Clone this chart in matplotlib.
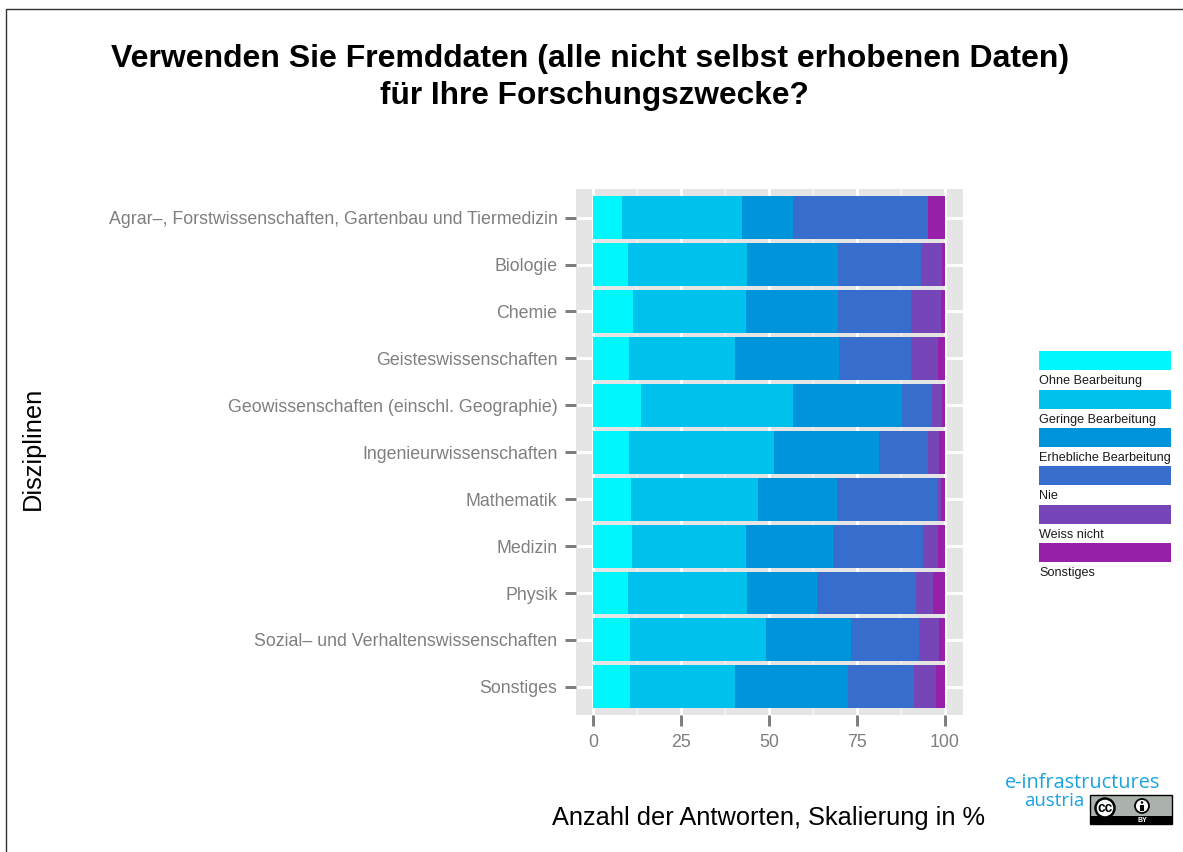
import numpy as np
import matplotlib
matplotlib.use('Agg')
import matplotlib.pyplot as plt
from matplotlib.patches import Rectangle, Circle

plt.rcParams['font.family'] = ['Liberation Sans', 'DejaVu Sans']

disziplinen = ['Agrar\u2013, Forstwissenschaften, Gartenbau und Tiermedizin', 'Biologie', 'Chemie',
               'Geisteswissenschaften', 'Geowissenschaften (einschl. Geographie)',
               'Ingenieurwissenschaften', 'Mathematik', 'Medizin', 'Physik',
               'Sozial\u2013 und Verhaltenswissenschaften', 'Sonstiges']
antworten = ['Ohne Bearbeitung', 'Geringe Bearbeitung', 'Erhebliche Bearbeitung',
             'Nie', 'Weiss nicht', 'Sonstiges']
farben = ['#00F7FF', '#00C2EC', '#0095DA', '#376ECD', '#7646B8', '#9720A8']

ohne = [8.2, 9.9, 11.4, 10.2, 13.6, 10.2, 10.8, 11.1, 9.9, 10.5, 10.5]
geringe = [34.1, 33.8, 32.1, 30.1, 43.2, 41.2, 36.1, 32.4, 33.8, 38.6, 29.8]
erhebliche = [14.5, 25.9, 26.1, 29.6, 31.0, 29.8, 22.4, 24.7, 19.9, 24.2, 32.1]
nie = [38.4, 23.6, 20.7, 20.4, 8.5, 13.9, 28.7, 25.6, 28.2, 19.3, 18.8]
weiss = [0.0, 5.9, 8.6, 7.7, 2.8, 3.1, 0.9, 4.3, 4.8, 5.7, 6.2]
sonstiges = [4.8, 0.9, 1.1, 2.0, 0.9, 1.7, 1.1, 2.0, 3.4, 1.7, 2.6]
x_ticks = [0, 25, 50, 75, 100]

W, H = 1183, 852
GRAU = '#7F7F7F'
PX = 0.72  # 1 px in points at dpi 100

fig = plt.figure(figsize=(W / 100, H / 100), dpi=100)

ax = fig.add_axes([576 / W, 1 - 715 / H, 387 / W, 526 / H])
ax.set_facecolor('#E5E5E5')
y = np.arange(len(disziplinen))
links = np.zeros(len(disziplinen))
for werte, farbe, name in zip([ohne, geringe, erhebliche, nie, weiss, sonstiges], farben, antworten):
    ax.barh(y, werte, left=links, height=0.915, color=farbe, label=name, zorder=3)
    links = links + np.array(werte)

ax.set_xlim(-4.83, 105.1)
ax.set_ylim(len(disziplinen) - 0.4, -0.61)
ax.set_yticks(y)
ax.set_yticklabels(disziplinen)
ax.set_xticks(x_ticks)
ax.set_xticks([12.5, 37.5, 62.5, 87.5], minor=True)
ax.grid(True, which='major', color='white', lw=3 * PX, zorder=1)
ax.grid(True, which='minor', axis='x', color='#F2F2F2', lw=1.5 * PX, zorder=1)
ax.tick_params(axis='both', which='major', length=11.5 * PX, width=3 * PX, color=GRAU,
               labelcolor=GRAU, labelsize=12.75, pad=5)
ax.tick_params(axis='x', which='major', pad=5.5)
ax.tick_params(which='minor', length=0)
for s in ax.spines.values():
    s.set_visible(False)

# alles andere in Pixelkoordinaten
ov = fig.add_axes([0, 0, 1, 1], facecolor='none', zorder=5)
ov.set_xlim(0, W)
ov.set_ylim(H, 0)
ov.axis('off')

ov.plot([6.5, 6.5, W], [H, 8.5, 8.5], color='#333333', lw=1.0)

ov.text(590.5, 59, 'Verwenden Sie Fremddaten (alle nicht selbst erhobenen Daten)', fontsize=23,
        fontweight='bold', ha='center', va='center', color='black')
ov.text(594.5, 96, 'f\u00fcr Ihre Forschungszwecke?', fontsize=22.8,
        fontweight='bold', ha='center', va='center', color='black')
ov.text(33, 448.5, 'Disziplinen', fontsize=18.3, rotation=90, ha='center', va='center', color='black')
ov.text(769, 818, 'Anzahl der Antworten, Skalierung in %', fontsize=18.3, ha='center', va='center', color='black')

# Legende
legend_y = [351, 390, 428, 466, 505, 543]
for ly, farbe, name in zip(legend_y, farben, antworten):
    ov.add_patch(Rectangle((1039, ly), 132, 19, fc=farbe, ec='none'))
    ov.text(1039.5, ly + 30, name, fontsize=9.1, ha='left', va='center', color='#1A1A1A')

# Logo
blau = '#1BA3E0'
ov.text(1160, 782.5, 'e-infrastructures', fontsize=14.3, ha='right', va='center', color=blau,
        family=['Open Sans', 'DejaVu Sans'])
ov.text(1084, 800.5, 'austria', fontsize=13.4, ha='right', va='center', color=blau,
        family=['Open Sans', 'DejaVu Sans'])
ov.add_patch(Rectangle((1090, 795), 82, 29, fc='#AAB2AB', ec='black', lw=1))
ov.add_patch(Rectangle((1090, 816), 82, 8, fc='black', ec='none'))
ov.add_patch(Circle((1105, 808), 9.5, fc='white', ec='black', lw=1.8))
ov.text(1105, 807.5, 'cc', fontsize=10, fontweight='bold', ha='center', va='center', color='black')
ov.add_patch(Circle((1142, 806), 7, fc='white', ec='black', lw=1.3))
ov.add_patch(Circle((1142, 802.5), 1.3, fc='black', ec='none'))
ov.add_patch(Rectangle((1140.3, 804.5), 3.4, 6.5, fc='black', ec='none'))
ov.text(1142, 820.3, 'BY', fontsize=5, fontweight='bold', ha='center', va='center', color='white')

fig.savefig('out.png', dpi=100)
